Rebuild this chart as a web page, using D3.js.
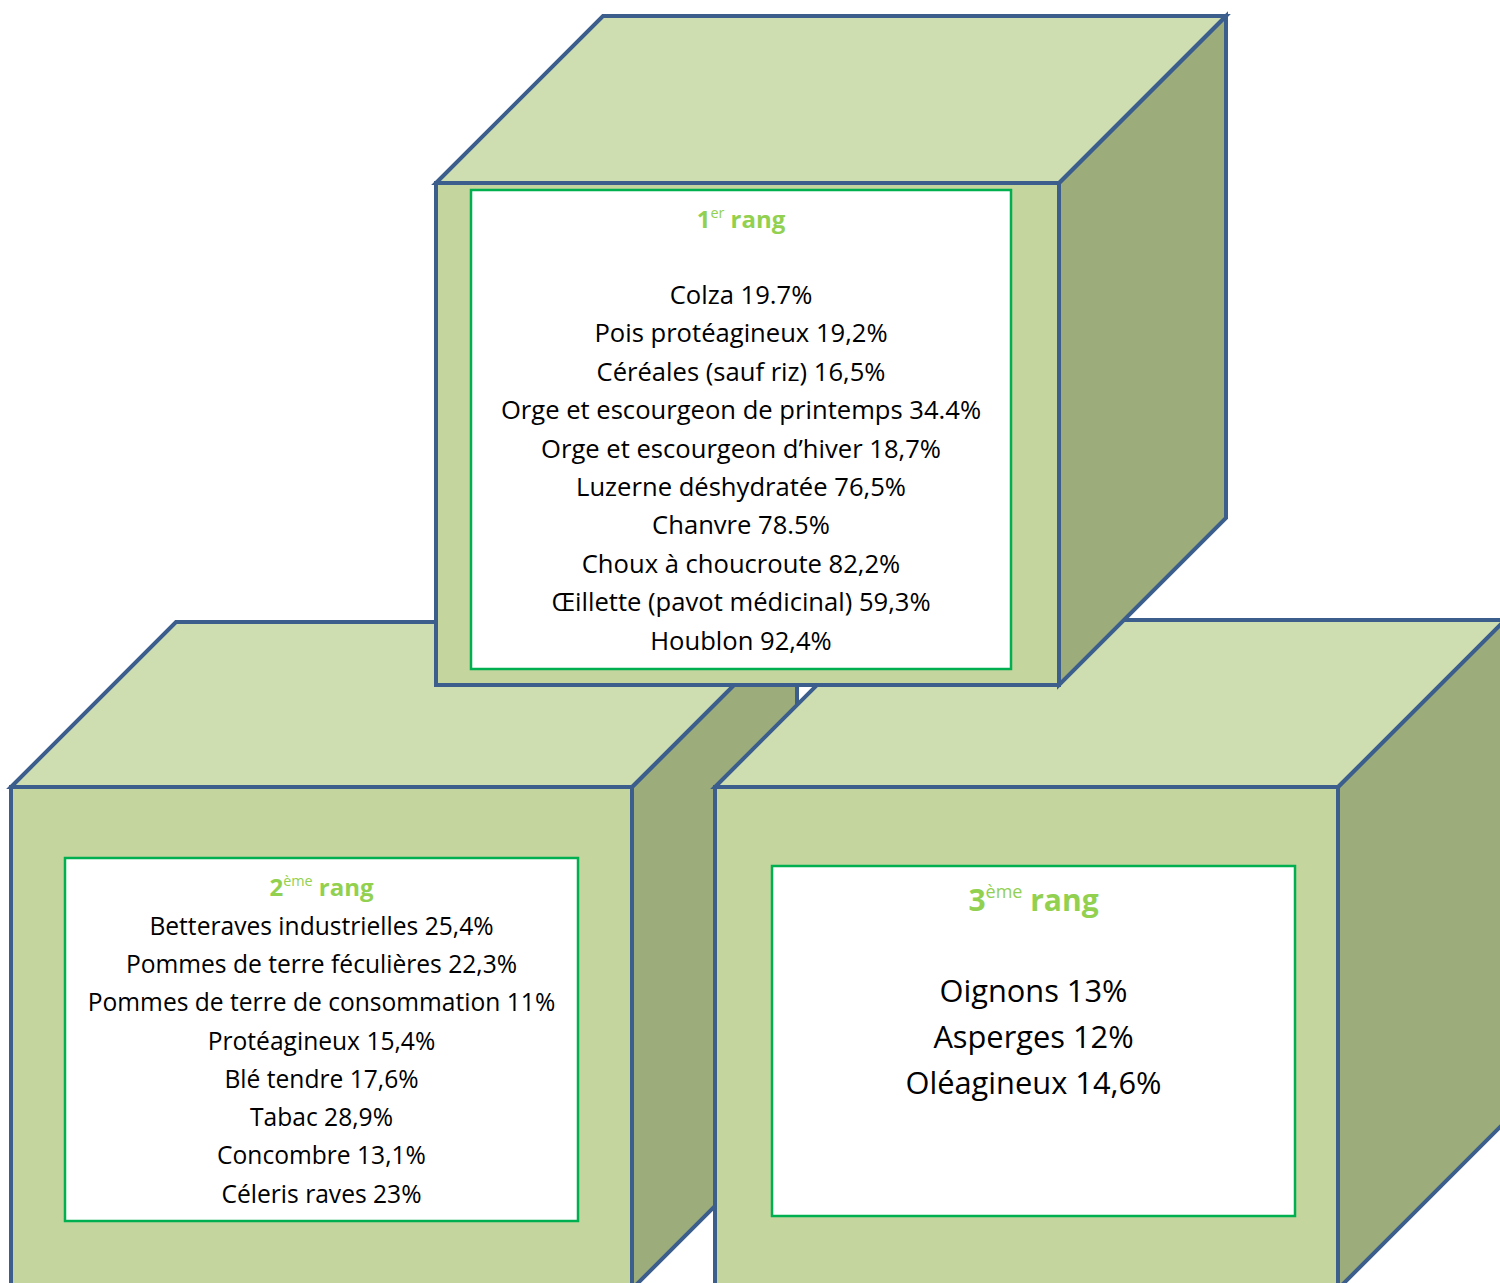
<!DOCTYPE html>
<html><head><meta charset="utf-8">
<script src="https://cdn.jsdelivr.net/npm/d3@7"></script>
<style>html,body{margin:0;padding:0;background:#fff;}svg{display:block;}</style>
</head><body>
<script>
// ---- data ----
const ranks = ["1", "2", "3"];
const rankSuffix = ["er", "ème", "ème"];
const rankWord = "rang";

const rank1Crops = ["Colza", "Pois protéagineux", "Céréales (sauf riz)", "Orge et escourgeon de printemps",
  "Orge et escourgeon d’hiver", "Luzerne déshydratée", "Chanvre", "Choux à choucroute",
  "Œillette (pavot médicinal)", "Houblon"];
const rank1Values = ["19.7%", "19,2%", "16,5%", "34.4%", "18,7%", "76,5%", "78.5%", "82,2%", "59,3%", "92,4%"];

const rank2Crops = ["Betteraves industrielles", "Pommes de terre féculières", "Pommes de terre de consommation",
  "Protéagineux", "Blé tendre", "Tabac", "Concombre", "Céleris raves"];
const rank2Values = ["25,4%", "22,3%", "11%", "15,4%", "17,6%", "28,9%", "13,1%", "23%"];

const rank3Crops = ["Oignons", "Asperges", "Oléagineux"];
const rank3Values = ["13%", "12%", "14,6%"];

// ---- style ----
const W = 1500, H = 1283;
const C = {front: "#C4D69E", top: "#CFDEB1", side: "#9CAC7B", edge: "#3B5E8D", box: "#00B050", title: "#92D050"};
const FONT = "'Open Sans', 'Noto Sans', sans-serif";

const svg = d3.select("body").append("svg").attr("width", W).attr("height", H);

// layout of cubes (drawn in this order: left, right, top)
const cubes = [
  {rank: 1, x: 11,  y: 787, w: 621, h: 502, d: 165,
   box: {x: 65, y: 858, w: 513, h: 363}, titleY: 888, titleSize: 24, firstY: 926, step: 38.3, size: 24.6,
   crops: rank2Crops, values: rank2Values},
  {rank: 2, x: 715, y: 787, w: 623, h: 502, d: 167,
   box: {x: 772, y: 866, w: 523, h: 350}, titleY: 900, titleSize: 30, firstY: 991, step: 46, size: 30.8,
   crops: rank3Crops, values: rank3Values},
  {rank: 0, x: 436, y: 183, w: 623, h: 502, d: 167,
   box: {x: 471, y: 190, w: 540, h: 479}, titleY: 220, titleSize: 24, firstY: 295, step: 38.4, size: 25.6,
   crops: rank1Crops, values: rank1Values}
];

const line = d3.line();
cubes.forEach(c => {
  const g = svg.append("g");
  const stroke = s => s.attr("stroke", C.edge).attr("stroke-width", 4).attr("stroke-linejoin", "miter");
  // right side face
  stroke(g.append("path").attr("fill", C.side)
    .attr("d", line([[c.x + c.w, c.y], [c.x + c.w + c.d, c.y - c.d], [c.x + c.w + c.d, c.y - c.d + c.h], [c.x + c.w, c.y + c.h]]) + "Z"));
  // top face
  stroke(g.append("path").attr("fill", C.top)
    .attr("d", line([[c.x, c.y], [c.x + c.d, c.y - c.d], [c.x + c.w + c.d, c.y - c.d], [c.x + c.w, c.y]]) + "Z"));
  // front face
  stroke(g.append("rect").attr("fill", C.front)
    .attr("x", c.x).attr("y", c.y).attr("width", c.w).attr("height", c.h));
  // white label box
  g.append("rect").attr("fill", "#fff").attr("stroke", C.box).attr("stroke-width", 2.5)
    .attr("x", c.box.x).attr("y", c.box.y).attr("width", c.box.w).attr("height", c.box.h);

  const cx = c.box.x + c.box.w / 2;
  const t = g.append("text").attr("x", cx).attr("y", c.titleY).attr("dy", "0.35em")
    .attr("text-anchor", "middle").attr("font-family", FONT).attr("font-weight", 700)
    .attr("font-size", c.titleSize).attr("fill", C.title);
  t.append("tspan").text(ranks[c.rank]);
  t.append("tspan").attr("font-size", c.titleSize * 0.6).attr("font-weight", 400).attr("dy", "-0.7em").text(rankSuffix[c.rank]);
  t.append("tspan").attr("dy", "0.42em").text(" " + rankWord);

  const yScale = d3.scaleLinear().domain([0, 1]).range([c.firstY, c.firstY + c.step]);
  g.selectAll("text.item").data(d3.zip(c.crops, c.values)).join("text")
    .attr("class", "item")
    .attr("x", cx).attr("y", (d, i) => yScale(i)).attr("dy", "0.35em")
    .attr("text-anchor", "middle").attr("font-family", FONT).attr("font-weight", 400)
    .attr("font-size", c.size).attr("fill", "#000")
    .text(d => d[0] + " " + d[1]);
});
</script>
</body></html>
